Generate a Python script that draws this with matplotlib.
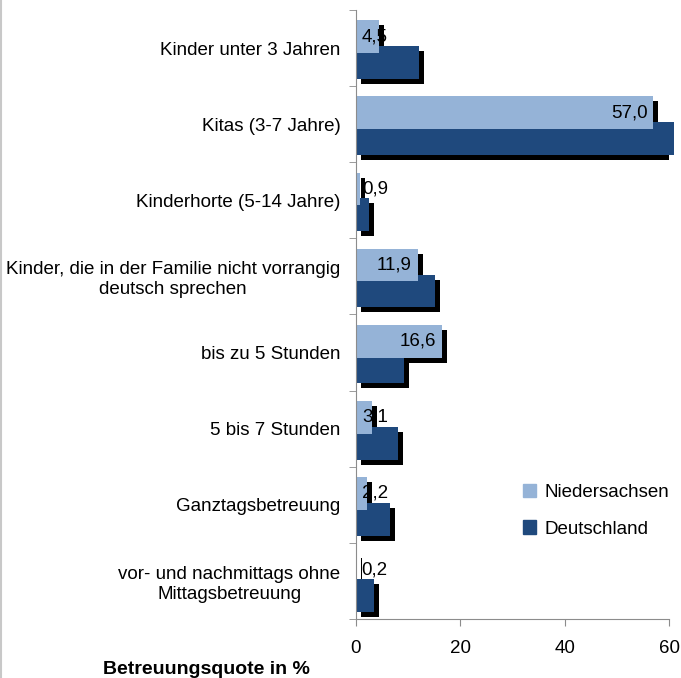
import numpy as np
import matplotlib.pyplot as plt
from matplotlib.transforms import offset_copy
from matplotlib.patches import Patch

plt.rcParams['font.family'] = ['Liberation Sans', 'DejaVu Sans']

# data
categories = ['Kinder unter 3 Jahren',
              'Kitas (3-7 Jahre)',
              'Kinderhorte (5-14 Jahre)',
              'Kinder, die in der Familie nicht vorrangig\ndeutsch sprechen',
              'bis zu 5 Stunden',
              '5 bis 7 Stunden',
              'Ganztagsbetreuung',
              'vor- und nachmittags ohne\nMittagsbetreuung']
niedersachsen = [4.5, 57.0, 0.9, 11.9, 16.6, 3.1, 2.2, 0.2]
deutschland = [12.1, 61.0, 2.5, 15.2, 9.2, 8.1, 6.5, 3.5]
xticks = [0, 20, 40, 60]

light = '#95B3D7'
dark = '#1F497D'
grey = '#8C8C8C'

fig = plt.figure(figsize=(6.81, 6.78), dpi=100)
ax = fig.add_axes([0.5223, 0.087, 0.4603, 0.8983])

y = np.arange(len(categories))
h = 0.43
y_n = y - 0.15
y_d = y + 0.19

# shadows first, shifted a few pixels right/down
shadow_tr = offset_copy(ax.transData, fig=fig, x=5, y=-5, units='dots')
for vals, yy in ((niedersachsen, y_n), (deutschland, y_d)):
    bars = ax.barh(yy, vals, height=h, color='black', linewidth=0)
    for p in bars:
        p.set_transform(shadow_tr)

ax.barh(y_d, deutschland, height=h, color=dark, linewidth=0, clip_on=False)
ax.barh(y_n, niedersachsen, height=h, color=light, linewidth=0, clip_on=False)

# value labels (Niedersachsen only)
for v, yy in zip(niedersachsen, y_n):
    ax.annotate(f'{v:.1f}'.replace('.', ','), xy=(max(v, 7.3), yy),
                xytext=(-6, 0), textcoords='offset pixels',
                ha='right', va='center', fontsize=13.5, color='black')

ax.set_xlim(0, 60)
ax.set_ylim(len(categories) - 0.5, -0.5)
ax.set_xticks(xticks)
ax.set_yticks(y)
ax.set_yticklabels(categories)
ax.set_yticks(np.arange(-0.5, len(categories)), minor=True)
for t in ax.get_yticklabels():
    t.set_multialignment('center')

ax.tick_params(axis='y', which='major', length=0, pad=11, labelsize=13.5)
ax.tick_params(axis='y', which='minor', length=5, color=grey, direction='out')
ax.tick_params(axis='x', length=5, color=grey, pad=10, labelsize=13.5)

for s in ('top', 'right'):
    ax.spines[s].set_visible(False)
for s in ('left', 'bottom'):
    ax.spines[s].set_color(grey)

handles = [Patch(color=light, label='Niedersachsen'),
           Patch(color=dark, label='Deutschland')]
fig.legend(handles=handles, loc='center left', bbox_to_anchor=(0.768, 0.247),
           frameon=False, fontsize=13.5, handlelength=0.7, handleheight=0.7,
           handletextpad=0.45, labelspacing=1.05, borderpad=0, borderaxespad=0)

fig.text(0.303, 0.012, 'Betreuungsquote in %', ha='center', va='center',
         fontsize=14, fontweight='bold')

fig.add_artist(plt.Line2D([0.001, 0.001], [0, 1], color='#C8C8C8', lw=1.5,
                          transform=fig.transFigure))

fig.savefig('out.png', dpi=100)
